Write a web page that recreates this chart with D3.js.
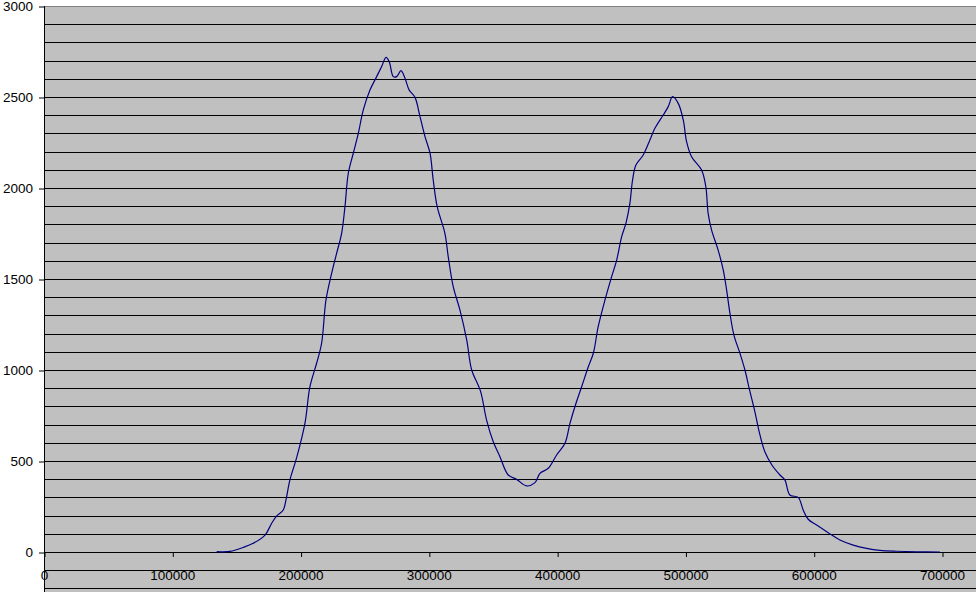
<!DOCTYPE html>
<html>
<head>
<meta charset="utf-8">
<script src="https://cdn.jsdelivr.net/npm/d3@7"></script>
<style>
  html, body { margin: 0; padding: 0; background: #ffffff; }
  svg { display: block; }
  text { font-family: "Liberation Sans", Arial, sans-serif; font-size: 13.5px; fill: #000; }
</style>
</head>
<body>
<svg id="chart" width="976" height="592"></svg>
<script>
// ---- data ----
const xValues = [134600,145000,155300,163100,172300,177500,181400,186500,188600,191700,
  197000,203400,207300,212500,216400,219800,224200,228100,232000,234600,
  237200,241100,245000,248900,254100,259300,263200,266600,269100,272300,
  274900,278300,281400,284700,289200,293100,297000,300900,303400,306500,
  312500,315100,319000,324200,329500,333400,340200,345000,350200,355400,
  361900,368400,376200,382700,386600,393100,399600,406100,410000,414700,
  419100,424300,428200,432000,437300,442500,446400,450300,453600,456700,
  458800,461400,467100,472300,476200,482700,486600,490000,494400,498300,
  500900,504800,512600,515900,517700,520400,525500,529500,532100,534700,
  537800,542500,546400,549700,554200,558100,562000,567400,573700,577500,
  581400,587900,591800,595700,602300,611300,620400,630800,641200,651600,
  664600,680200,698400];
const yValues = [2,3,25,48,93,158,198,231,286,396,
  520,707,908,1037,1147,1385,1531,1641,1751,1897,
  2081,2191,2300,2429,2538,2612,2667,2718,2694,2612,
  2612,2645,2603,2538,2498,2392,2282,2191,2044,1897,
  1751,1623,1458,1330,1165,1000,885,725,606,524,
  423,399,363,381,432,460,533,597,707,817,
  908,1018,1092,1238,1385,1513,1604,1733,1806,1916,
  2044,2126,2181,2264,2328,2401,2447,2502,2465,2374,
  2255,2172,2099,2007,1861,1769,1659,1549,1440,1311,
  1192,1092,1000,899,769,643,549,478,423,396,
  313,300,231,180,148,106,66,38,20,9,
  4,1,0];
const yTickValues = [0, 500, 1000, 1500, 2000, 2500, 3000];
const xTickValues = [0, 100000, 200000, 300000, 400000, 500000, 600000, 700000];

// ---- layout ----
const W = 976, H = 592;
const plotLeft = 44, plotTop = 6, zeroY = 552;
const svg = d3.select("#chart");

const x = d3.scaleLinear().domain([0, 700000]).range([plotLeft, 942]);
const y = d3.scaleLinear().domain([0, 3000]).range([zeroY, plotTop]);
const yBottom = y.invert(H);

// plot area background
svg.append("rect")
  .attr("x", plotLeft).attr("y", plotTop)
  .attr("width", W - plotLeft).attr("height", H - plotTop)
  .attr("fill", "#c0c0c0");

// x tick labels (drawn before gridlines)
const xAxis = svg.append("g")
  .attr("transform", `translate(0,${zeroY})`)
  .call(d3.axisBottom(x).tickValues(xTickValues).tickSize(5).tickPadding(13).tickFormat(d3.format("d")));
xAxis.select(".domain").remove();
xAxis.selectAll("line").attr("stroke", "#000").attr("transform", "translate(0.5,0)");
xAxis.selectAll("text").style("font-size", "13.5px").attr("fill", "#000");

// gridlines every 100
const gridVals = d3.range(Math.ceil(yBottom / 100) * 100, 3000, 100);
svg.append("g").selectAll("line")
  .data(gridVals)
  .join("line")
  .attr("x1", plotLeft).attr("x2", W)
  .attr("y1", d => Math.round(y(d)) + 0.5)
  .attr("y2", d => Math.round(y(d)) + 0.5)
  .attr("stroke", "#000")
  .attr("stroke-width", 1);

// top border
svg.append("line")
  .attr("x1", plotLeft).attr("x2", W)
  .attr("y1", plotTop + 0.5).attr("y2", plotTop + 0.5)
  .attr("stroke", "#808080");

// y axis
const yAxis = svg.append("g")
  .attr("transform", `translate(${plotLeft},0)`)
  .call(d3.axisLeft(y).tickValues(yTickValues).tickSize(5).tickPadding(6).tickFormat(d3.format("d")));
yAxis.select(".domain").remove();
yAxis.selectAll("line").attr("stroke", "#000").attr("transform", "translate(0,0.5)");
yAxis.selectAll("text").style("font-size", "13.5px").attr("fill", "#000");

svg.append("line")
  .attr("x1", plotLeft + 0.5).attr("x2", plotLeft + 0.5)
  .attr("y1", plotTop).attr("y2", H)
  .attr("stroke", "#000");

// data line
const pts = xValues.map((v, i) => [v, yValues[i]]);
const line = d3.line()
  .x(d => x(d[0]))
  .y(d => y(d[1]))
  .curve(d3.curveCatmullRom.alpha(0.5));
svg.append("path")
  .datum(pts)
  .attr("d", line)
  .attr("fill", "none")
  .attr("stroke", "#000080")
  .attr("stroke-width", 1.2);
</script>
</body>
</html>
